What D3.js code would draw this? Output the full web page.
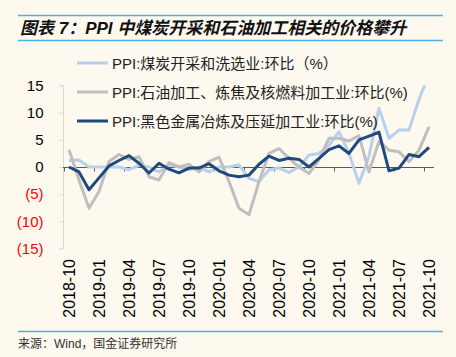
<!DOCTYPE html>
<html><head><meta charset="utf-8">
<script src="https://cdn.jsdelivr.net/npm/d3@7"></script>
<style>
html,body{margin:0;padding:0;background:#fdf9ef;}
svg{display:block;}
</style></head>
<body>
<script>
const months = ["2018-10","2018-11","2018-12","2019-01","2019-02","2019-03","2019-04","2019-05","2019-06","2019-07","2019-08","2019-09","2019-10","2019-11","2019-12","2020-01","2020-02","2020-03","2020-04","2020-05","2020-06","2020-07","2020-08","2020-09","2020-10","2020-11","2020-12","2021-01","2021-02","2021-03","2021-04","2021-05","2021-06","2021-07","2021-08","2021-09","2021-10"];
const coal = [1.2,1.3,0,0,0,0,-0.5,0.3,0,-0.9,0.4,0,-0.5,0,-0.9,0,0,0.4,-2.1,-2.7,-0.5,-0.2,-1.0,0,2.2,2.5,4.0,6.5,2.5,-3.0,2.0,10.8,5.3,6.8,6.8,12.5,17];
const oil = [3.2,-2.4,-7.6,-4.5,1.0,2.3,1.4,1.9,-1.8,-2.4,0.8,0,0.5,-0.9,1.0,1.8,-2.7,-7.6,-8.8,-2.7,2.5,3.4,1.6,0,-1.2,1.3,5.3,5.3,4.8,5.8,-0.9,4.7,3.1,2.8,1.0,3.1,7.4];
const steel = [0,-0.9,-4.2,-2.0,0.2,1.2,2.1,0.7,-1.1,0.7,-0.4,-1.1,-0.2,-0.2,0.6,-0.7,-1.5,-1.8,-1.5,0.5,2.0,1.2,1.6,1.4,0,1.6,3.2,3.9,2.5,5.0,5.7,6.4,-0.7,-0.2,2.3,1.9,3.6];
const seriesNames = ["PPI:煤炭开采和洗选业:环比（%）","PPI:石油加工、炼焦及核燃料加工业:环比(%)","PPI:黑色金属冶炼及压延加工业:环比(%)"];
const seriesColors = ["#b7d0ee","#bfbfbf","#1f4a7f"];
const yTicks = [15,10,5,0,-5,-10,-15];
const xTickLabels = months.filter((d,i)=>i%3===0);
const title = "图表 7：PPI 中煤炭开采和石油加工相关的价格攀升";
const source = "来源：Wind，国金证券研究所";

const W=456,H=357;
const svg=d3.select("body").append("svg").attr("width",W).attr("height",H);
svg.append("rect").attr("width",W).attr("height",H).attr("fill","#fdf9ef");

const cjk = "'Liberation Sans','Noto Sans CJK SC',sans-serif";
// title bars
svg.append("line").attr("x1",18).attr("x2",443).attr("y1",15.5).attr("y2",15.5).attr("stroke","#4fb0e4").attr("stroke-width",1.5);
svg.append("line").attr("x1",18).attr("x2",443).attr("y1",40.5).attr("y2",40.5).attr("stroke","#4fb0e4").attr("stroke-width",1.5);
svg.append("line").attr("x1",18).attr("x2",443).attr("y1",331.5).attr("y2",331.5).attr("stroke","#4fb0e4").attr("stroke-width",1.5);
svg.append("text").attr("x",20).attr("y",34).attr("font-family",cjk).attr("font-size",17).attr("font-weight","bold").attr("font-style","italic").attr("fill","#111").text(title);
svg.append("text").attr("x",18).attr("y",348).attr("font-family",cjk).attr("font-size",12).attr("fill","#333").text(source);

const x = d3.scaleBand().domain(months).range([64,434]).paddingInner(0).paddingOuter(0);
const xc = d => x(d)+x.bandwidth()/2;
const y = d3.scaleLinear().domain([-15,15]).range([248.4,85.6]);

// y axis
const yAxis = d3.axisLeft(y).tickValues(yTicks).tickSize(4).tickPadding(16)
  .tickFormat(d => d<0 ? "("+(-d)+")" : d);
const gy = svg.append("g").attr("transform","translate(63.5,0)").call(yAxis);
gy.select(".domain").attr("stroke","#d9d9d9").attr("d","M-4,"+y(15)+"H0V"+y(-15)+"H-4");
gy.selectAll(".tick line").attr("stroke","#d9d9d9");
gy.selectAll(".tick text").attr("font-family",cjk).attr("font-size",15)
  .attr("fill",d=>d<0?"#ff0000":"#000");

// zero axis
const gx = svg.append("g").attr("transform","translate(0,"+(y(0)+0.5)+")");
gx.append("line").attr("x1",63).attr("x2",434).attr("stroke","#595959").attr("stroke-width",1);
gx.selectAll("line.tk").data(xTickLabels).enter().append("line").attr("class","tk")
  .attr("x1",d=>x(d)+0.5).attr("x2",d=>x(d)+0.5).attr("y1",0).attr("y2",4).attr("stroke","#595959");
// x labels
svg.append("g").selectAll("text").data(xTickLabels).enter().append("text")
  .attr("transform",d=>"translate("+(xc(d)+5.5)+",259) rotate(-90)")
  .attr("text-anchor","end").attr("font-family",cjk).attr("font-size",16).attr("fill","#000").text(d=>d);

// clip
svg.append("clipPath").attr("id","clip").append("rect").attr("x",60).attr("y",y(15)).attr("width",380).attr("height",y(-15)-y(15));
const line = d3.line().x((d,i)=>xc(months[i])).y(d=>y(d));
const data=[coal,oil,steel];
const plot = svg.append("g").attr("clip-path","url(#clip)");
data.forEach((s,k)=>{
  plot.append("path").datum(s).attr("d",line).attr("fill","none").attr("stroke",seriesColors[k])
    .attr("stroke-width",3).attr("stroke-linejoin","round");
});

// legend
const legY=[63,92,121];
seriesNames.forEach((n,k)=>{
  svg.append("line").attr("x1",77).attr("x2",108).attr("y1",legY[k]).attr("y2",legY[k]).attr("stroke",seriesColors[k]).attr("stroke-width",3);
  svg.append("text").attr("x",112).attr("y",legY[k]+5.5).attr("font-family",cjk).attr("font-size",15).attr("fill","#222").text(n);
});
</script>
</body></html>
